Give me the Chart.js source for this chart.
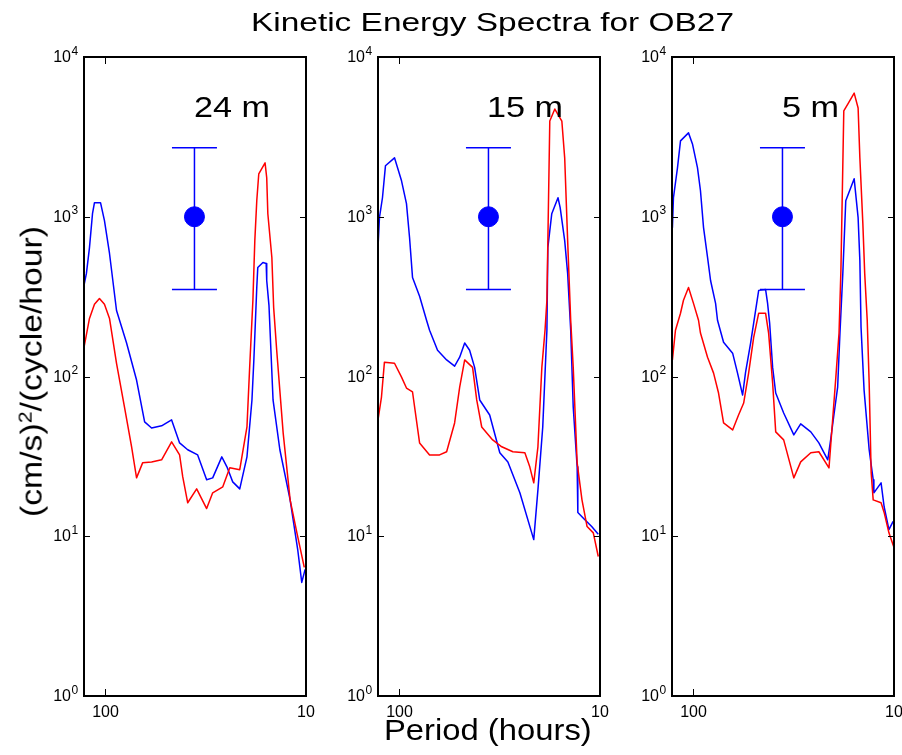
<!DOCTYPE html>
<html>
<head>
<meta charset="utf-8">
<script src="https://cdn.jsdelivr.net/npm/chart.js@4.4.1/dist/chart.umd.min.js"></script>
<style>
html,body{margin:0;padding:0;background:#fff;overflow:hidden;width:902px;height:755px;}
#wrap{position:relative;width:902px;height:755px;overflow:hidden;background:#fff;}
#wrap canvas{position:absolute;}
.txt{position:absolute;font-family:"Liberation Sans",Arial,Helvetica,sans-serif;color:#000;white-space:nowrap;transform-origin:0 0;line-height:1;}
.sup{position:relative;font-size:19px;top:-10px;}
</style>
</head>
<body>
<div id="wrap"></div>
<script>
// ---------------- DATA ----------------
const chartTitle = 'Kinetic Energy Spectra for OB27';
const xAxisTitle = 'Period (hours)';
const yAxisTitleParts = ['(cm/s)', '2', '/(cycle/hour)'];
const panelLabels = ['24 m', '15 m', '5 m'];
const xTickValues = [100, 10];
const yTickValues = [1, 10, 100, 1000, 10000];
const xRange = [10, 128];
const yRange = [1, 10000];

// error bar (same in each panel)
const errPeriod = 36;
const errCenter = 1000;
const errLow = 350;
const errHigh = 2700;

// 24 m
const period24Blue = [128,124.5,120.2,116.1,113.5,105.9,101.2,95.5,88.1,78.5,70.0,63.8,58.9,52.5,46.8,42.7,38.9,34.7,31.3,29.2,26.3,24.8,23.2,21.4,19.7,18.6,18.2,17.6,17.4,16.4,15.8,15.7,15.3,14.6,13.5,12.0,11.0,10.5,10.1];
const ke24Blue     = [372,442,641,1045,1225,1225,946,589,259,162,95,52,47.6,49.1,53.5,38.4,34.8,32.3,22.6,23.2,31.4,27.2,21.9,19.8,31.4,71.3,127,361,481,517,510,399,279,71.3,34.8,16.9,8.26,5.14,6.2];
const period24Red  = [128,120.2,113.5,107.2,101.2,95.5,88.1,80.4,74.1,70.0,65.3,58.9,52.5,46.8,42.7,41.2,38.9,35.1,31.3,29.2,26.0,24.0,21.4,19.7,19.1,18.4,18.0,17.6,17.2,16.0,15.7,15.5,14.8,14.5,14.0,13.0,12.0,11.1,10.2];
const ke24Red      = [152,231,283,308,283,231,121,64.4,36.3,23.2,28.8,29.2,30.1,39.0,32.3,23.6,16.2,19.8,14.9,18.7,20.4,26.8,26.1,48.3,114,300,709,1259,1858,2175,1754,1045,556,271,146,44.4,16.9,10.5,6.38];

// 15 m
const period15Blue = [128,125.9,121.6,117.5,105.9,97.7,92.3,89.1,86.1,79.4,73.3,70.8,64.6,58.2,53.1,50.1,47.3,44.7,42.2,39.8,35.5,31.6,28.8,25.1,21.4,20.4,19.3,18.4,18.2,17.4,16.2,15.8,15.0,14.5,14.0,13.6,13.0,12.9,11.9,11.0,10.2];
const ke15Blue     = [641,987,1315,2084,2338,1679,1208,741,417,318,225,195,146,127,116,132,162,146,114,71.3,57.4,33.3,29.2,18.7,9.53,19.5,48.3,195,641,1045,1315,1140,709,442,195,64.4,27.2,14.1,12.7,11.5,10.3];
const period15Red  = [128,123.0,118.9,105.9,97.7,92.3,86.1,79.4,70.8,63.1,58.2,53.1,50.1,47.3,43.2,41.2,38.9,34.3,30.9,27.2,23.7,22.4,21.4,20.4,19.5,18.8,18.4,17.8,16.8,15.5,15.0,14.5,14.0,13.6,13.0,12.3,11.6,10.8,10.2];
const ke15Red      = [53.5,74.4,123,121,99.1,84.7,80.0,38.4,32.3,32.3,33.8,51.2,85.9,127,114,71.3,48.3,40.1,36.3,33.8,33.3,27.2,21.6,36.3,114,195,300,3975,4724,3975,2338,709,225,114,28.8,16.9,11.5,10.5,7.47];

// 5 m
const period5Blue = [127.4,125.9,120.2,116.1,105.9,101.2,95.5,92.3,89.1,85.1,82.2,77.6,75.9,70.8,63.8,60.3,56.9,55.0,51.9,49.0,47.3,43.7,42.7,41.7,40.3,38.9,35.5,31.6,29.2,26.0,23.7,21.4,20.7,20.0,19.1,18.6,18.0,17.4,16.8,15.8,15.1,14.8,14.6,14.1,13.3,12.7,12.6,11.6,11.2,10.6,10.1];
const ke5Blue     = [855,1315,2023,2985,3350,2858,2023,1455,855,556,399,287,225,164,140,105,76.6,106,162,259,346,351,287,215,114,78.8,59.1,43.1,50.5,45.0,38.4,30.1,40.1,55.8,85.9,187,442,1259,1413,1728,987,532,203,82.2,34.8,22.6,18.7,21.6,15.3,11.0,12.4];
const period5Red  = [127.4,123.0,116.1,112.2,105.9,100,94.4,92.3,85.1,79.4,75.0,70.8,63.8,59.6,56.2,53.1,50.1,47.3,43.7,42.2,40.3,38.9,35.5,31.6,29.2,26.0,23.7,21.1,20.2,19.5,18.8,18.4,17.8,17.0,15.8,15.1,14.8,14.3,14.0,13.6,13.3,13.0,12.7,11.6,11.2,10.6,10.0];
const ke5Red      = [127,195,249,300,361,287,225,187,132,105,78.8,51.2,46.3,57.4,68.2,105,176,249,249,187,91.0,45.0,40.1,23.2,29.2,33.3,33.8,26.8,55.0,99.1,187,461,4592,5078,5943,4797,2338,906,442,225,91.0,25.0,16.9,16.2,14.1,10.5,8.51];

// ---------------- LAYOUT / STYLE ----------------
const FONT = '"Liberation Sans", Arial, Helvetica, sans-serif';
const BLUE = '#0000ff', RED = '#ff0000';
const panelLefts = [84, 378, 672];
const panelWidth = 222;
const plotTop = 57, plotBottom = 696;
const canvasTop = 27, canvasH = 728, padL = 60, padR = 30;

const panels = [
  {bp: period24Blue, bv: ke24Blue, rp: period24Red, rv: ke24Red},
  {bp: period15Blue, bv: ke15Blue, rp: period15Red, rv: ke15Red},
  {bp: period5Blue,  bv: ke5Blue,  rp: period5Red,  rv: ke5Red}
];

const wrap = document.getElementById('wrap');
const zip = (xs, ys) => xs.map((x, i) => ({x: x, y: ys[i]}));

const axesPlugin = {
  id: 'boxAxes',
  afterDraw(chart) {
    const {ctx, chartArea: a, scales: {x, y}} = chart;
    ctx.save();
    ctx.strokeStyle = '#000';
    ctx.lineWidth = 1;
    ctx.beginPath();
    yTickValues.forEach(v => {
      const py = Math.round(y.getPixelForValue(v)) + 0.5;
      ctx.moveTo(a.left, py); ctx.lineTo(a.left + 6, py);
      ctx.moveTo(a.right, py); ctx.lineTo(a.right - 6, py);
    });
    xTickValues.forEach(v => {
      const px = Math.round(x.getPixelForValue(v)) + 0.5;
      ctx.moveTo(px, a.top); ctx.lineTo(px, a.top + 7);
      ctx.moveTo(px, a.bottom); ctx.lineTo(px, a.bottom - 7);
    });
    ctx.stroke();
    ctx.lineWidth = 2;
    ctx.strokeRect(a.left, a.top, a.right - a.left, a.bottom - a.top);
    ctx.fillStyle = '#000';
    ctx.textBaseline = 'alphabetic';
    yTickValues.forEach(v => {
      const py = y.getPixelForValue(v);
      const ex = String(Math.round(Math.log10(v)));
      ctx.font = '16px ' + FONT;
      ctx.textAlign = 'right';
      ctx.fillText('10', a.left - 13, py + 5);
      ctx.font = '12px ' + FONT;
      ctx.textAlign = 'left';
      ctx.fillText(ex, a.left - 12.5, py - 2.5);
    });
    ctx.font = '16px ' + FONT;
    ctx.textAlign = 'center';
    xTickValues.forEach(v => {
      const px = x.getPixelForValue(v);
      ctx.fillText(String(v), px, a.bottom + 20.5);
    });
    ctx.restore();
  }
};

panels.forEach((p, i) => {
  const cv = document.createElement('canvas');
  const w = padL + panelWidth + padR;
  cv.width = w; cv.height = canvasH;
  cv.style.width = w + 'px'; cv.style.height = canvasH + 'px';
  cv.style.left = (panelLefts[i] - padL) + 'px';
  cv.style.top = canvasTop + 'px';
  wrap.appendChild(cv);
  const lineDs = (data, color) => ({
    type: 'line', data: data, borderColor: color, backgroundColor: color,
    borderWidth: 1.5, pointRadius: 0, tension: 0, fill: false, borderJoinStyle: 'round'
  });
  new Chart(cv, {
    type: 'line',
    data: {
      datasets: [
        {data: [{x: errPeriod, y: errCenter}], showLine: false, pointStyle: 'circle',
         pointRadius: 10, pointBackgroundColor: BLUE, pointBorderColor: BLUE, pointBorderWidth: 1},
        {data: [{x: errPeriod, y: errLow}, {x: errPeriod, y: errHigh}], showLine: false,
         pointStyle: 'line', pointRadius: 22.5, pointBorderColor: BLUE, pointBorderWidth: 1.5},
        {data: [{x: errPeriod, y: errLow}, {x: errPeriod, y: errHigh}], borderColor: BLUE,
         borderWidth: 1.5, pointRadius: 0},
        lineDs(zip(p.rp, p.rv), RED),
        lineDs(zip(p.bp, p.bv), BLUE)
      ]
    },
    options: {
      responsive: false, animation: false, events: [],
      layout: {padding: {left: padL, right: padR, top: plotTop - canvasTop, bottom: canvasTop + canvasH - plotBottom}},
      plugins: {legend: {display: false}, tooltip: {enabled: false}, title: {display: false}},
      scales: {
        x: {type: 'logarithmic', min: xRange[0], max: xRange[1], reverse: true, display: false},
        y: {type: 'logarithmic', min: yRange[0], max: yRange[1], display: false}
      }
    },
    plugins: [axesPlugin]
  });
});

// ---------------- TEXT ----------------
function addText(parts, x, baseY, size, target, rotate) {
  const el = document.createElement('div');
  el.className = 'txt';
  el.style.fontSize = size + 'px';
  parts.forEach(pt => {
    const s = document.createElement('span');
    s.textContent = pt.t;
    if (pt.sup) s.className = 'sup';
    el.appendChild(s);
  });
  el.style.left = x + 'px';
  el.style.top = baseY + 'px';
  wrap.appendChild(el);
  const nat = el.getBoundingClientRect().width;
  const sc = target / nat;
  const asc = 0.8465 * size;
  el.style.transform = (rotate ? 'rotate(-90deg) ' : '') + 'scaleX(' + sc + ') translateY(' + (-asc) + 'px)';
}
addText([{t: chartTitle}], 250.6, 31, 25, 483, false);
addText([{t: xAxisTitle}], 384.2, 740, 30, 207.7, false);
addText([{t: yAxisTitleParts[0]}, {t: yAxisTitleParts[1], sup: true}, {t: yAxisTitleParts[2]}], 42, 517.3, 30, 291, true);
const labelX = [194, 486.5, 782];
const labelW = [76, 76, 57];
panelLabels.forEach((t, i) => addText([{t: t}], labelX[i], 117, 30, labelW[i], false));
</script>
</body>
</html>
